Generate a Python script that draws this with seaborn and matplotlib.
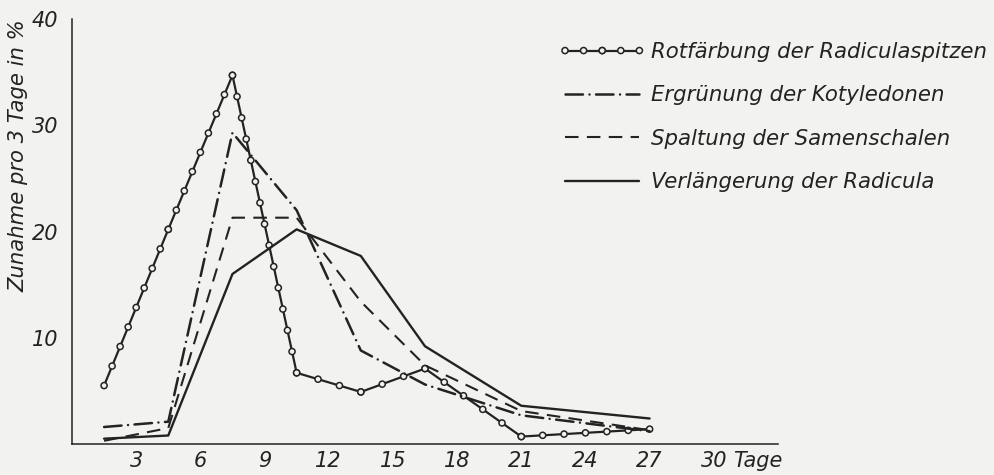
import numpy as np
import pandas as pd
import matplotlib
matplotlib.use("Agg")
import matplotlib.pyplot as plt
import matplotlib.patheffects as pe
from matplotlib.path import Path
from matplotlib.transforms import Affine2D
import seaborn as sns

tage = [1.5, 4.5, 7.5, 10.5, 13.5, 16.5, 21, 27]
rotfaerbung = [5.5, 20.2, 34.7, 6.7, 4.9, 7.1, 0.7, 1.4]
ergruenung = [1.6, 2.1, 29.3, 22.0, 8.8, 5.6, 2.7, 1.2]
spaltung = [0.3, 1.5, 21.3, 21.3, 13.4, 7.4, 3.1, 1.3]
verlaengerung = [0.5, 0.8, 16.0, 20.2, 17.7, 9.2, 3.6, 2.4]

namen = [
    "Rotfärbung der Radiculaspitzen",
    "Ergrünung der Kotyledonen",
    "Spaltung der Samenschalen",
    "Verlängerung der Radicula",
]
x_ticks = [3, 6, 9, 12, 15, 18, 21, 24, 27, 30]
y_ticks = [10, 20, 30, 40]

papier = "#f2f2f0"
tinte = "#232323"


# Kreise entlang der Linie (nur Zeichenstil)
class KreisLinie(pe.AbstractPathEffect):
    def __init__(self, abstand=15, radius=2.2, lw=0.9):
        super().__init__()
        self.abstand = abstand
        self.radius = radius
        self.lw = lw

    def draw_path(self, renderer, gc, tpath, affine, rgbFace=None):
        renderer.draw_path(gc, tpath, affine, rgbFace)
        pts = affine.transform(tpath.vertices)
        d = renderer.points_to_pixels(self.abstand)
        r = renderer.points_to_pixels(self.radius)
        gc0 = renderer.new_gc()
        gc0.copy_properties(gc)
        gc0.set_linewidth(self.lw)
        for p0, p1 in zip(pts[:-1], pts[1:]):
            laenge = np.hypot(*(p1 - p0))
            n = max(1, int(round(laenge / d)))
            for t in np.linspace(0, 1, n + 1):
                c = p0 + t * (p1 - p0)
                renderer.draw_path(gc0, Path.circle(c, r), Affine2D(),
                                   matplotlib.colors.to_rgb(papier))
        gc0.restore()


sns.set_theme(style="white")
plt.rcParams["font.family"] = ["DejaVu Sans"]
plt.rcParams["font.style"] = "italic"

fig = plt.figure(figsize=(9.95, 4.75), dpi=100, facecolor=papier)
ax = fig.add_axes([72 / 995, 31 / 475, 706 / 995, 425 / 475])
ax.set_facecolor(papier)

df = pd.DataFrame({
    "tage": tage,
    namen[0]: rotfaerbung,
    namen[1]: ergruenung,
    namen[2]: spaltung,
    namen[3]: verlaengerung,
})

stile = [
    dict(linestyle="-", lw=1.6, path_effects=[KreisLinie(16, 2.2, 1.1)]),
    dict(linestyle=(0, (7, 2.6, 0.01, 2.6)), lw=1.8, dash_capstyle="round"),
    dict(linestyle=(0, (6.5, 4)), lw=1.5),
    dict(linestyle="-", lw=1.7),
]

for name, stil in zip(namen, stile):
    sns.lineplot(data=df, x="tage", y=name, ax=ax, color=tinte,
                 label=name, legend=False, **stil)

ax.set_xlim(0, 33)
ax.set_ylim(0, 40)
ax.set_xticks(x_ticks)
ax.set_yticks(y_ticks)
ax.set_xticklabels([str(t) for t in x_ticks], fontsize=15)
ax.set_yticklabels([str(t) for t in y_ticks], fontsize=15)
ax.set_xlabel("")
ax.set_ylabel("")
ax.tick_params(axis="both", direction="in", length=6.5, width=1.1,
               color=tinte, labelcolor=tinte)
ax.tick_params(axis="x", pad=5)
ax.tick_params(axis="y", pad=10)

for s in ["top", "right"]:
    ax.spines[s].set_visible(False)
for s in ["left", "bottom"]:
    ax.spines[s].set_color(tinte)
    ax.spines[s].set_linewidth(1.1)

ax.annotate("Tage", xy=(30.9, 0), xycoords=("data", "axes fraction"),
            xytext=(0, -5), textcoords="offset points", va="top",
            ha="left", fontsize=15, color=tinte)

fig.text(0.019, 1 - 156 / 475, "Zunahme pro 3 Tage in %", rotation=90,
         va="center", ha="center", fontsize=15.2, color=tinte)

handles, labels = ax.get_legend_handles_labels()
ax.legend(handles, labels, loc="upper left",
          bbox_to_anchor=(565 / 995, 1 - 42 / 475),
          bbox_transform=fig.transFigure, frameon=False, fontsize=15.3,
          handlelength=3.5, handletextpad=0.55, labelspacing=1.1,
          borderpad=0, borderaxespad=0, labelcolor=tinte)

fig.savefig("out.png", dpi=100, facecolor=papier)
